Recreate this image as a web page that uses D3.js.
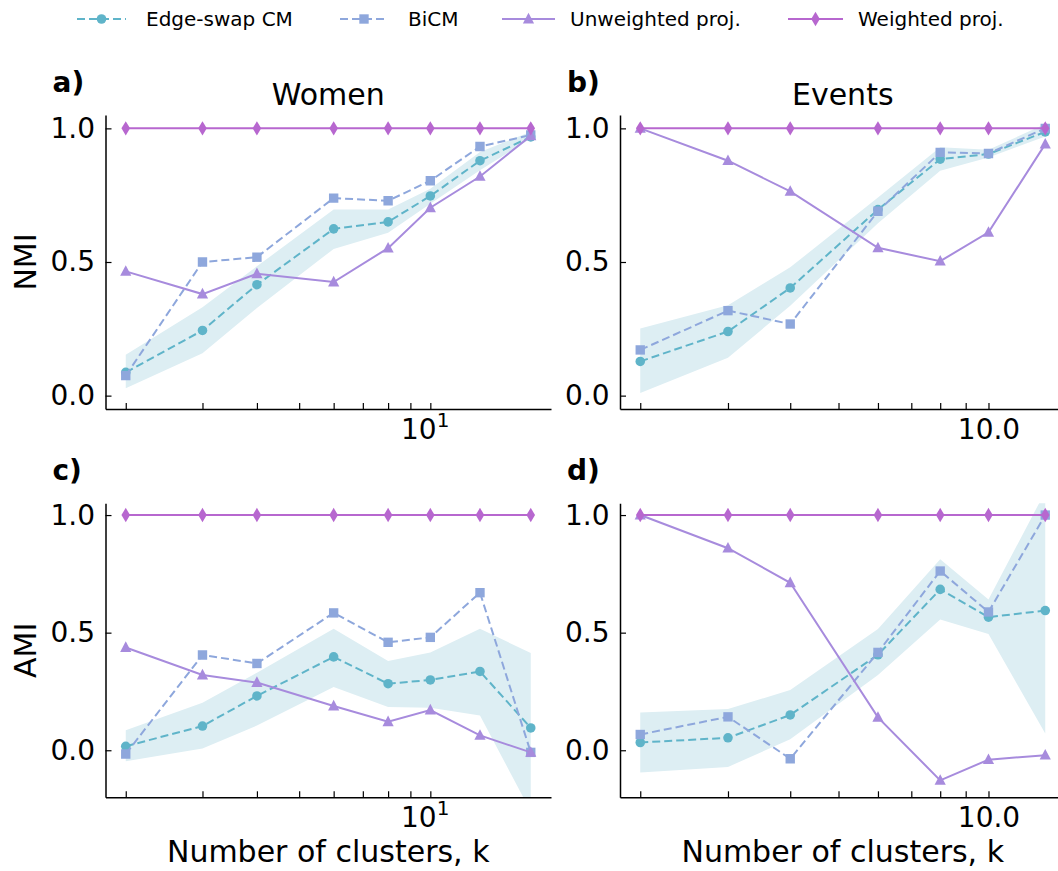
<!DOCTYPE html>
<html>
<head>
<meta charset="utf-8">
<script src="https://cdn.jsdelivr.net/npm/d3@7"></script>
<style>
  body { margin: 0; background: #fff; }
  text { font-family: "DejaVu Sans", sans-serif; fill: #000; }
</style>
</head>
<body>
<svg id="fig" width="1058" height="871"></svg>
<script>
// number of clusters k
const kWomen = [2, 3, 4, 6, 8, 10, 13, 17]
const kEvents = [2, 3, 4, 6, 8, 10, 13]

// NMI, women
const nmiWomenEdge = [0.087, 0.244, 0.415, 0.624, 0.650, 0.747, 0.879, 0.968]
const nmiWomenLo = [0.028, 0.159, 0.328, 0.549, 0.609, 0.718, 0.843, 0.962]
const nmiWomenHi = [0.153, 0.331, 0.484, 0.696, 0.696, 0.774, 0.912, 0.987]
const nmiWomenBicm = [0.075, 0.500, 0.518, 0.739, 0.729, 0.804, 0.932, 0.975]
const nmiWomenUnw = [0.465, 0.380, 0.456, 0.425, 0.552, 0.703, 0.820, 0.972]
const nmiWomenW = [1, 1, 1, 1, 1, 1, 1, 1]

// NMI, events
const nmiEventsEdge = [0.128, 0.240, 0.403, 0.696, 0.885, 0.904, 0.987]
const nmiEventsLo = [0.010, 0.142, 0.336, 0.645, 0.841, 0.891, 0.970]
const nmiEventsHi = [0.251, 0.338, 0.480, 0.741, 0.929, 0.920, 1.016]
const nmiEventsBicm = [0.171, 0.318, 0.268, 0.690, 0.910, 0.906, 1.000]
const nmiEventsUnw = [1.000, 0.879, 0.764, 0.553, 0.503, 0.611, 0.941]
const nmiEventsW = [1, 1, 1, 1, 1, 1, 1]

// AMI, women
const amiWomenEdge = [0.017, 0.103, 0.231, 0.397, 0.283, 0.299, 0.335, 0.095]
const amiWomenLo = [-0.047, 0.007, 0.105, 0.269, 0.184, 0.181, 0.148, -0.26]
const amiWomenHi = [0.085, 0.202, 0.330, 0.517, 0.380, 0.416, 0.517, 0.413]
const amiWomenBicm = [-0.016, 0.405, 0.369, 0.584, 0.459, 0.480, 0.670, -0.009]
const amiWomenUnw = [0.437, 0.320, 0.288, 0.188, 0.121, 0.171, 0.063, -0.009]
const amiWomenW = [1, 1, 1, 1, 1, 1, 1, 1]

// AMI, events
const amiEventsEdge = [0.033, 0.053, 0.150, 0.406, 0.684, 0.566, 0.594]
const amiEventsLo = [-0.095, -0.071, 0.047, 0.320, 0.556, 0.494, 0.071]
const amiEventsHi = [0.161, 0.175, 0.256, 0.516, 0.812, 0.641, 1.10]
const amiEventsBicm = [0.067, 0.142, -0.036, 0.416, 0.762, 0.588, 1.000]
const amiEventsUnw = [1.000, 0.859, 0.712, 0.140, -0.128, -0.040, -0.021]
const amiEventsW = [1, 1, 1, 1, 1, 1, 1]

const seriesNames = ['Edge-swap CM', 'BiCM', 'Unweighted proj.', 'Weighted proj.']
const colors = ['#5fb4c9', '#8ea7dc', '#a78bdd', '#b767cf']
const dashes = ['8,4', '8,4', null, null]
const markers = ['circle', 'square', 'triangle', 'diamond']
const bandColor = '#ddeef3'

const svg = d3.select('#fig')
const pw = 445.5, ph = 294

let markerPath = m => {
    if (m === 'circle') return d3.symbol(d3.symbolCircle, 72)()
    if (m === 'square') return d3.symbol(d3.symbolSquare, 88)()
    if (m === 'triangle') return 'M0,-6.2L5.6,4.4L-5.6,4.4Z'
    return 'M0,-7.2L4.3,0L0,7.2L-4.3,0Z'
}

let panels = [
    { left: 105.5, top: 115, k: kWomen, yDom: [-0.05, 1.05], label: 'a)', title: 'Women', ylab: 'NMI', sup: true,
      band: [nmiWomenLo, nmiWomenHi], vals: [nmiWomenEdge, nmiWomenBicm, nmiWomenUnw, nmiWomenW] },
    { left: 620, top: 115, k: kEvents, yDom: [-0.05, 1.05], label: 'b)', title: 'Events', ylab: null, sup: false,
      band: [nmiEventsLo, nmiEventsHi], vals: [nmiEventsEdge, nmiEventsBicm, nmiEventsUnw, nmiEventsW] },
    { left: 105.5, top: 503.3, k: kWomen, yDom: [-0.2, 1.05], label: 'c)', title: null, ylab: 'AMI', sup: true, xlab: true,
      band: [amiWomenLo, amiWomenHi], vals: [amiWomenEdge, amiWomenBicm, amiWomenUnw, amiWomenW] },
    { left: 620, top: 503.3, k: kEvents, yDom: [-0.2, 1.05], label: 'd)', title: null, ylab: null, sup: false, xlab: true,
      band: [amiEventsLo, amiEventsHi], vals: [amiEventsEdge, amiEventsBicm, amiEventsUnw, amiEventsW] }
]

panels.forEach((p, pi) => {
    let g = svg.append('g').attr('transform', `translate(${p.left},${p.top})`)
    let l0 = Math.log10(d3.min(p.k)), l1 = Math.log10(d3.max(p.k))
    let m = 0.05 * (l1 - l0)
    let x = d3.scaleLog().domain([10 ** (l0 - m), 10 ** (l1 + m)]).range([0, pw])
    let y = d3.scaleLinear().domain(p.yDom).range([ph, 0])

    g.append('clipPath').attr('id', 'clip' + pi)
        .append('rect').attr('width', pw).attr('height', ph)
    let plot = g.append('g').attr('clip-path', `url(#clip${pi})`)

    // spread band of the edge-swap model
    let area = d3.area()
        .x((d, i) => x(p.k[i]))
        .y0((d, i) => y(p.band[0][i]))
        .y1((d, i) => y(p.band[1][i]))
    plot.append('path').attr('d', area(p.k)).attr('fill', bandColor)

    p.vals.forEach((vals, si) => {
        let line = d3.line().x((d, i) => x(p.k[i])).y(d => y(d))
        plot.append('path')
            .attr('d', line(vals))
            .attr('fill', 'none')
            .attr('stroke', colors[si])
            .attr('stroke-width', 2)
            .attr('stroke-dasharray', dashes[si])
        plot.selectAll(null)
            .data(vals)
            .enter()
            .append('path')
            .attr('d', markerPath(markers[si]))
            .attr('transform', (d, i) => `translate(${x(p.k[i])},${y(d)})`)
            .attr('fill', colors[si])
    })

    // axes
    let xAxis = d3.axisBottom(x)
        .tickValues([2, 3, 4, 5, 6, 7, 8, 9, 10])
        .tickSizeInner(-6).tickSizeOuter(0).tickPadding(10)
        .tickFormat(d => d === 10 ? (p.sup ? '10' : '10.0') : '')
    let xg = g.append('g').attr('transform', `translate(0,${ph})`).call(xAxis)
    let yAxis = d3.axisLeft(y)
        .tickValues([0, 0.5, 1])
        .tickSizeInner(-6).tickSizeOuter(0).tickPadding(10.5)
        .tickFormat(d3.format('.1f'))
    let yg = g.append('g').call(yAxis)
    ;[xg, yg].forEach(a => {
        a.selectAll('path.domain').attr('stroke', '#000').attr('stroke-width', 1.5)
        a.selectAll('line').attr('stroke', '#000').attr('stroke-width', 1.2)
        a.selectAll('text').attr('font-size', 28).attr('font-family', '"DejaVu Sans", sans-serif')
    })
    if (p.sup) {
        xg.selectAll('text').filter(d => d === 10)
            .attr('dx', '-0.2em')
            .append('tspan').text('1')
            .attr('font-size', 20).attr('dy', '-0.6em')
    }

    svg.append('text')
        .attr('x', p.left - 53).attr('y', p.top - 23)
        .attr('font-size', 28).attr('font-weight', 'bold')
        .text(p.label)
    if (p.title) {
        svg.append('text')
            .attr('x', p.left + pw / 2).attr('y', p.top - 10)
            .attr('text-anchor', 'middle').attr('font-size', 30)
            .text(p.title)
    }
    if (p.ylab) {
        svg.append('text')
            .attr('transform', `translate(36,${p.top + ph / 2}) rotate(-90)`)
            .attr('text-anchor', 'middle').attr('font-size', 30)
            .text(p.ylab)
    }
    if (p.xlab) {
        svg.append('text')
            .attr('x', p.left + pw / 2).attr('y', 862)
            .attr('text-anchor', 'middle').attr('font-size', 30)
            .text('Number of clusters, k')
    }
})

// legend across the top
let legendPos = [[77, 126, 146], [340, 388, 408], [502, 555, 570], [788, 843, 858]]
let lg = svg.append('g')
seriesNames.forEach((name, i) => {
    let [a, b, t] = legendPos[i]
    lg.append('line')
        .attr('x1', a).attr('x2', b).attr('y1', 19).attr('y2', 19)
        .attr('stroke', colors[i]).attr('stroke-width', 2)
        .attr('stroke-dasharray', dashes[i])
    lg.append('path')
        .attr('d', markerPath(markers[i]))
        .attr('transform', `translate(${(a + b) / 2},19)`)
        .attr('fill', colors[i])
    lg.append('text')
        .attr('x', t).attr('y', 19).attr('dy', '0.35em')
        .attr('font-size', 20)
        .text(name)
})
</script>
</body>
</html>
